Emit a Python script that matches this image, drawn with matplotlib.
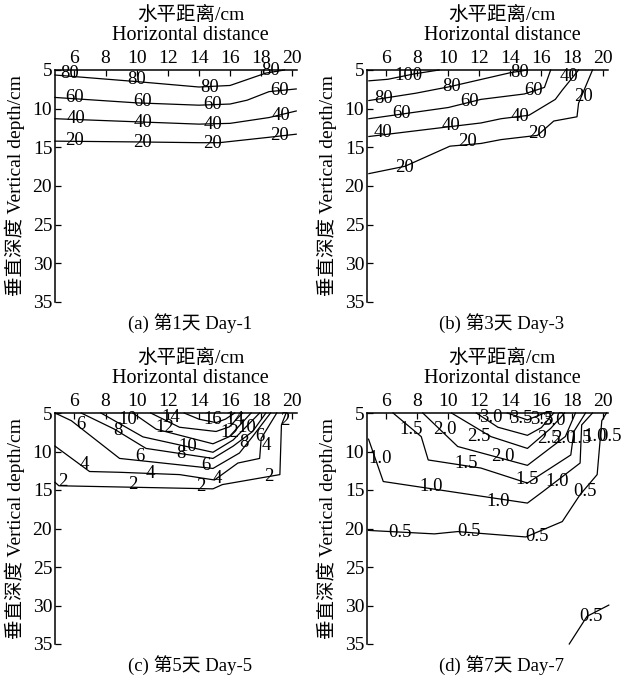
import numpy as np
import matplotlib
matplotlib.use("Agg")
import matplotlib.pyplot as plt

plt.rcParams['font.family'] = ['Liberation Serif', 'Noto Sans CJK SC']

# contour polylines per panel: (level, x positions, depths)
day1_lines = [
    (80, [4.75, 10.0, 14.0, 16.0, 18.3, 19.5], [5.65, 6.5, 7.2, 7.0, 5.4, 5.0]),
    (60, [4.75, 10.0, 14.0, 16.0, 17.1, 18.5, 20.25], [8.55, 9.25, 9.55, 9.4, 8.9, 7.8, 7.45]),
    (40, [4.75, 10.0, 14.0, 16.0, 18.5, 20.25], [11.3, 11.7, 12.0, 11.9, 11.15, 10.3]),
    (20, [4.75, 10.0, 14.0, 15.3, 18.5, 20.25], [14.2, 14.3, 14.4, 14.4, 13.7, 13.3]),
]
day1_labels = [
    ("80", [5.7, 10.0, 14.7, 18.6], [5.5, 6.2, 7.2, 5.1]),
    ("60", [6.0, 10.4, 14.9, 19.2], [8.5, 9.1, 9.4, 7.7]),
    ("40", [6.1, 10.4, 14.9, 19.3], [11.25, 11.8, 12.0, 10.85]),
    ("20", [6.0, 10.4, 14.9, 19.2], [14.1, 14.4, 14.5, 13.45]),
]

day3_lines = [
    (100, [4.87, 6.1, 7.8, 9.4], [6.4, 6.2, 5.5, 5.0]),
    (80, [4.87, 7.9, 10.1, 14.0, 15.1], [8.95, 8.0, 7.15, 5.35, 5.0]),
    (60, [4.87, 10.0, 12.1, 14.9, 16.2, 16.6], [11.3, 9.85, 8.8, 8.1, 7.25, 5.0]),
    (40, [4.87, 10.0, 12.1, 13.4, 15.2, 16.9, 17.35, 18.4],
     [13.6, 12.35, 11.85, 11.3, 10.85, 8.8, 7.6, 5.0]),
    (20, [4.87, 7.2, 10.1, 12.1, 13.4, 15.75, 16.8, 18.3, 18.4, 19.3],
     [18.4, 17.45, 14.85, 14.5, 14.0, 13.45, 11.6, 11.05, 9.3, 5.0]),
]
day3_labels = [
    ("100", [7.4], [5.65]),
    ("80", [5.8, 10.2, 14.6], [8.7, 7.1, 5.3]),
    ("60", [7.0, 11.35, 15.5], [10.6, 9.1, 7.6]),
    ("40", [5.8, 10.2, 14.6, 17.8], [13.1, 12.15, 11.05, 5.9]),
    ("20", [7.2, 11.25, 15.75, 18.7], [17.55, 14.3, 13.2, 8.45]),
]

day5_lines = [
    (2, [4.75, 5.0, 14.9, 15.5, 19.2, 19.3, 19.6], [14.0, 14.45, 14.85, 14.3, 13.0, 6.55, 5.0]),
    (4, [4.75, 6.97, 8.9, 12.75, 15.0, 16.5, 17.9, 18.0, 19.0],
     [9.3, 12.6, 12.7, 13.0, 13.7, 11.5, 10.9, 8.3, 5.0]),
    (6, [4.75, 5.8, 8.9, 14.9, 16.6, 17.45, 18.6], [5.0, 6.0, 10.9, 12.2, 10.2, 8.05, 5.0]),
    (8, [6.43, 8.57, 10.6, 14.9, 16.2, 17.45, 18.3], [5.0, 7.1, 9.6, 10.9, 9.3, 7.4, 5.0]),
    (10, [7.7, 10.4, 14.9, 16.2, 17.9], [5.0, 8.1, 10.1, 8.5, 5.0]),
    (12, [9.75, 11.25, 14.9, 15.95, 17.35], [5.0, 7.1, 9.0, 8.07, 5.0]),
    (14, [10.9, 12.75, 15.1, 15.95, 16.8], [5.0, 6.85, 7.4, 6.8, 5.0]),
    (16, [13.05, 14.0, 15.1, 15.7, 16.3], [5.0, 5.8, 6.25, 5.8, 5.0]),
]
day5_labels = [
    ("2", [5.25, 9.75, 14.15, 18.5, 19.5], [13.9, 14.3, 14.55, 13.2, 6.0]),
    ("4", [6.65, 10.9, 15.2, 18.3], [11.7, 12.8, 13.45, 9.2]),
    ("6", [6.43, 10.2, 14.45, 17.9], [6.55, 10.65, 11.8, 8.0]),
    ("8", [8.78, 12.85, 16.9], [7.3, 10.2, 8.85]),
    ("10", [9.4, 13.3, 17.1], [5.8, 9.3, 6.85]),
    ("12", [11.8, 15.95], [6.85, 7.55]),
    ("14", [12.2, 16.3], [5.55, 5.8]),
    ("16", [14.9], [5.9]),
]

day7_lines = [
    (3.5, [13.8, 15.1, 16.2], [5.0, 5.9, 5.0]),
    (3.0, [11.8, 13.2, 15.1, 16.0, 16.8], [5.0, 6.85, 7.9, 6.9, 5.0]),
    (2.5, [10.2, 12.75, 15.1, 16.6, 17.5], [5.0, 8.07, 9.6, 7.0, 5.0]),
    (2.0, [8.35, 10.6, 15.1, 17.55, 18.2], [5.0, 9.35, 11.8, 8.05, 5.0]),
    (1.5, [6.43, 8.25, 8.7, 12.1, 15.1, 17.9, 18.1, 18.85],
     [5.0, 8.07, 11.1, 12.15, 14.1, 10.45, 7.4, 5.0]),
    (1.0, [4.85, 5.8, 15.1, 16.1, 18.5, 18.6, 19.3],
     [8.4, 13.9, 16.7, 15.2, 11.5, 6.55, 5.0]),
    (0.5, [4.85, 9.1, 10.6, 15.0, 17.35, 18.5, 19.6, 19.9, 20.2],
     [20.25, 20.7, 20.4, 21.1, 19.1, 15.6, 13.0, 6.0, 5.0]),
    (0.5, [17.8, 18.95, 20.35], [35.0, 31.4, 29.95]),
]
day7_labels = [
    ("3.5", [14.7, 16.0], [5.7, 5.9]),
    ("3.0", [12.75, 16.8], [5.55, 6.0]),
    ("2.5", [12.0, 16.5], [8.07, 8.3]),
    ("2.0", [9.75, 13.5, 17.45], [7.2, 10.65, 8.3]),
    ("1.5", [7.6, 11.15, 15.1, 18.5], [7.2, 11.6, 13.6, 8.3]),
    ("1.0", [5.6, 8.9, 13.2, 17.0, 19.45], [10.9, 14.55, 16.5, 13.9, 8.1]),
    ("0.5", [6.86, 11.35, 15.75, 18.8, 20.4, 19.2], [20.55, 20.4, 21.1, 15.2, 8.1, 31.45]),
]

captions = ["(a) 第1天 Day-1", "(b) 第3天 Day-3", "(c) 第5天 Day-5", "(d) 第7天 Day-7"]
x_ticks = [6, 8, 10, 12, 14, 16, 18, 20]
y_ticks = [5, 10, 15, 20, 25, 30, 35]

W, H = 621, 681
fig = plt.figure(figsize=(W / 100, H / 100), dpi=100)

# axes boxes in pixels: left, top, right, bottom
boxes = [(55, 70, 297, 302), (367, 70, 608, 302),
         (55, 413, 297, 644), (367, 413, 608, 644)]
panels = [(day1_lines, day1_labels), (day3_lines, day3_labels),
          (day5_lines, day5_labels), (day7_lines, day7_labels)]

for (l, t, r, b), (lines, labels), cap in zip(boxes, panels, captions):
    ax = fig.add_axes([l / W, 1 - b / H, (r - l) / W, (b - t) / H])
    for lev, xs, ys in lines:
        ax.plot(xs, ys, color="black", lw=0.9, clip_on=False)
    for txt, xs, ys in labels:
        for x, y in zip(xs, ys):
            ax.text(x, y, txt, fontsize=13.5, ha="center", va="center", clip_on=False)

    ax.set_xlim(4.75, 20.3)
    ax.set_ylim(35, 5)
    ax.set_xticks(x_ticks)
    ax.set_yticks(y_ticks)
    ax.xaxis.tick_top()
    ax.tick_params(direction="in", length=4, width=0.9, labelsize=14, pad=2)
    ax.tick_params(axis="x", pad=2)
    for s in ["right", "bottom"]:
        ax.spines[s].set_visible(False)
    for s in ["left", "top"]:
        ax.spines[s].set_linewidth(1.1)

    ax.text(0.56, 1.237, "水平距离/cm", transform=ax.transAxes,
            ha="center", va="center", fontsize=14)
    ax.text(0.56, 1.15, "Horizontal distance", transform=ax.transAxes,
            ha="center", va="center", fontsize=14.5)
    ax.text(-0.165, 0.5, "垂直深度 Vertical depth/cm", transform=ax.transAxes,
            ha="center", va="center", rotation=90, fontsize=14)
    ax.text(0.56, -0.09, cap, transform=ax.transAxes,
            ha="center", va="center", fontsize=13.5)

fig.savefig("out.png", dpi=100)
